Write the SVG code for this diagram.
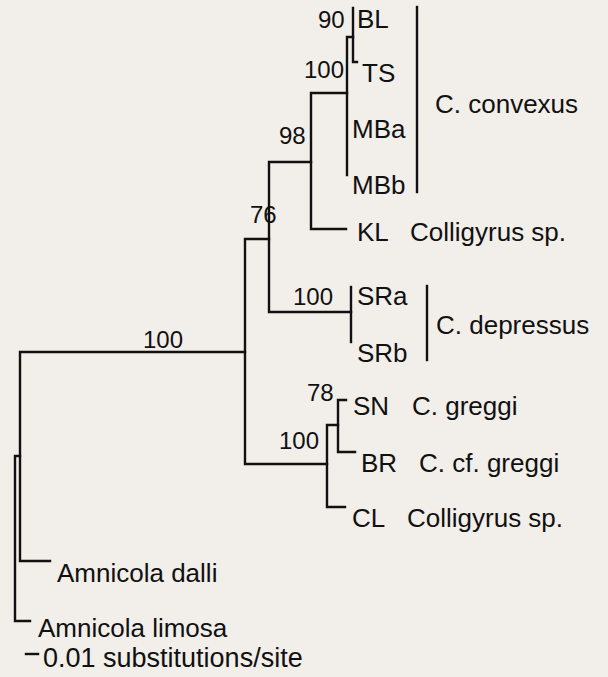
<svg xmlns="http://www.w3.org/2000/svg" width="608" height="677" viewBox="0 0 608 677">
<style>
.bg{fill:#f2eee9}
.ln{fill:none;stroke:#111;stroke-width:2.4;stroke-linecap:square;stroke-linejoin:miter}
.lab{font-family:"Liberation Sans",Arial,sans-serif;font-size:26px;fill:#111}
.sup{font-family:"Liberation Sans",Arial,sans-serif;font-size:24px;fill:#111}
</style>
<rect class="bg" x="0" y="0" width="608" height="677"/>
<g id="connectors">
<path class="ln" d="M245,352 H20 V561 H50"/>
<path class="ln" d="M20,456 H15 V621 H30"/>
<path class="ln" d="M269,239 H245 V464 H327"/>
<path class="ln" d="M311,162 H269 V312 H351"/>
<path class="ln" d="M347,93 H311 V229 H346"/>
<path class="ln" d="M353,37 H347 V175"/>
<path class="ln" d="M353,8 V62 H357"/>
<path class="ln" d="M351,287 V342"/>
<path class="ln" d="M338,425 H327 V507 H345"/>
<path class="ln" d="M346,400 H338 V452 H355"/>
<path class="ln" d="M417,7 V192"/>
<path class="ln" d="M427,286 V360"/>
<path class="ln" d="M26,654 H38"/>
</g>
<g id="supports">
<text class="sup" x="318" y="28">90</text>
<text class="sup" x="304" y="78">100</text>
<text class="sup" x="279" y="144">98</text>
<text class="sup" x="250" y="223">76</text>
<text class="sup" x="293" y="305">100</text>
<text class="sup" x="143" y="348">100</text>
<text class="sup" x="307" y="401">78</text>
<text class="sup" x="279" y="449">100</text>
</g>
<g id="node-BL"><text class="lab" x="357" y="28">BL</text></g>
<g id="node-TS"><text class="lab" x="362" y="82">TS</text></g>
<g id="node-MBa"><text class="lab" x="352" y="138">MBa</text></g>
<g id="node-MBb"><text class="lab" x="352" y="194">MBb</text></g>
<g id="group-convexus"><text class="lab" x="435" y="113">C. convexus</text></g>
<g id="node-KL"><text class="lab" x="357" y="241">KL</text><text class="lab" x="410" y="241">Colligyrus sp.</text></g>
<g id="node-SRa"><text class="lab" x="357" y="305">SRa</text></g>
<g id="node-SRb"><text class="lab" x="357" y="362">SRb</text></g>
<g id="group-depressus"><text class="lab" x="436" y="334">C. depressus</text></g>
<g id="node-SN"><text class="lab" x="353" y="415">SN</text><text class="lab" x="412" y="415">C. greggi</text></g>
<g id="node-BR"><text class="lab" x="361" y="472">BR</text><text class="lab" x="419" y="472">C. cf. greggi</text></g>
<g id="node-CL"><text class="lab" x="352" y="527">CL</text><text class="lab" x="407" y="527">Colligyrus sp.</text></g>
<g id="node-dalli"><text class="lab" x="57" y="582">Amnicola dalli</text></g>
<g id="node-limosa"><text class="lab" x="38" y="637">Amnicola limosa</text></g>
<g id="scale"><text class="lab" x="43" y="667" style="font-size:27px">0.01 substitutions/site</text></g>
</svg>
